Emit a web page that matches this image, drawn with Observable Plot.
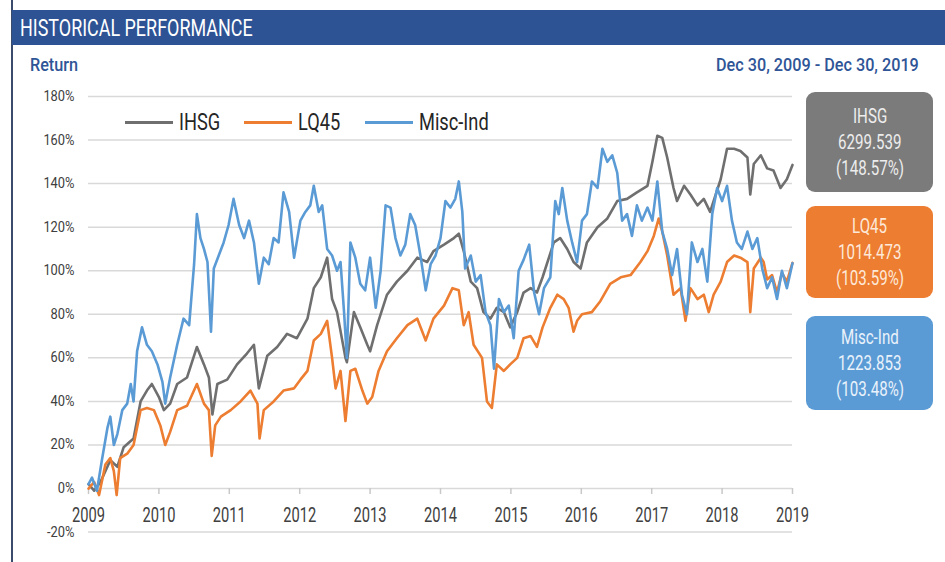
<!DOCTYPE html>
<html>
<head>
<meta charset="utf-8">
<script src="https://cdn.jsdelivr.net/npm/d3@7"></script>
<script src="https://cdn.jsdelivr.net/npm/@observablehq/plot@0.6"></script>
<style>
  html, body { margin: 0; padding: 0; background: #fff; }
  #wrap { position: relative; width: 945px; height: 562px; overflow: hidden; font-family: Roboto, "Noto Sans", sans-serif; }
  #chart { position: absolute; left: 0; top: 0; }
  .abs { position: absolute; }
  .cond { display: inline-block; white-space: nowrap; line-height: 1; }
  .cond > span { display: inline-block; transform-origin: 0 50%; }
</style>
</head>
<body>
<div id="wrap">
  <div id="leftRule" class="abs" style="left:11px;top:0;width:2px;height:562px;background:#3b4b6b;"></div>
  <div id="header" class="abs" style="left:12px;top:10px;width:933px;height:35px;background:#2e5395;"></div>
  <div id="chart"></div>
</div>
<script>
// ---------- data ----------
const titleText = "HISTORICAL PERFORMANCE";
const yLabelText = "Return";
const periodText = "Dec 30, 2009 - Dec 30, 2019";
const seriesNames = ["IHSG", "LQ45", "Misc-Ind"];
const seriesColors = ["#6f6f6f", "#ed7d31", "#5b9bd5"];
const boxColors = ["#7b7b7b", "#ed7d31", "#5b9bd5"];
const boxTextColors = ["#ededed", "#fde9d9", "#eaf2fb"];
const lastLevels = ["6299.539", "1014.473", "1223.853"];
const lastReturns = ["(148.57%)", "(103.59%)", "(103.48%)"];
const yTicks = [-20, 0, 20, 40, 60, 80, 100, 120, 140, 160, 180];
const xTicks = [2009, 2010, 2011, 2012, 2013, 2014, 2015, 2016, 2017, 2018, 2019];

// [year, return %]
const ihsg = [
  [2009.00, 2], [2009.08, -1], [2009.17, 3], [2009.31, 13], [2009.41, 10], [2009.50, 19],
  [2009.64, 23], [2009.74, 40], [2009.83, 45], [2009.90, 48], [2010.00, 42], [2010.07, 36],
  [2010.16, 39], [2010.26, 48], [2010.40, 51], [2010.54, 65], [2010.64, 57], [2010.71, 51],
  [2010.76, 34], [2010.83, 48], [2010.97, 50], [2011.11, 57], [2011.25, 62], [2011.35, 66],
  [2011.42, 46], [2011.54, 61], [2011.68, 65], [2011.82, 71], [2011.96, 69], [2012.01, 72],
  [2012.11, 78], [2012.20, 92], [2012.30, 97], [2012.39, 106], [2012.46, 87], [2012.53, 81],
  [2012.65, 60], [2012.67, 58], [2012.77, 81], [2012.86, 74], [2012.96, 66], [2013.00, 63],
  [2013.10, 75], [2013.24, 89], [2013.38, 95], [2013.53, 100], [2013.67, 106], [2013.81, 104],
  [2013.90, 109], [2014.05, 112], [2014.19, 115], [2014.26, 117], [2014.33, 109], [2014.43, 95],
  [2014.52, 92], [2014.61, 81], [2014.71, 78], [2014.80, 83], [2014.90, 81], [2014.99, 74],
  [2015.09, 81], [2015.18, 90], [2015.28, 92], [2015.37, 90], [2015.45, 97], [2015.61, 113],
  [2015.70, 115], [2015.80, 110], [2015.89, 104], [2015.99, 101], [2016.08, 113], [2016.23, 120],
  [2016.37, 124], [2016.51, 132], [2016.65, 133], [2016.79, 136], [2016.94, 139], [2017.01, 150],
  [2017.08, 162], [2017.15, 161], [2017.22, 152], [2017.31, 138], [2017.36, 132], [2017.46, 139],
  [2017.55, 135], [2017.65, 130], [2017.74, 133], [2017.83, 127], [2017.91, 135], [2017.98, 142],
  [2018.07, 156], [2018.17, 156], [2018.26, 155], [2018.36, 152], [2018.40, 135], [2018.45, 149],
  [2018.55, 153], [2018.64, 147], [2018.73, 146], [2018.83, 138], [2018.92, 142], [2019.00, 148.57]
];
const lq45 = [
  [2009.00, 0], [2009.08, 3], [2009.15, -3], [2009.24, 11], [2009.31, 14], [2009.36, 8],
  [2009.40, -3], [2009.45, 14], [2009.55, 16], [2009.64, 20], [2009.74, 36], [2009.83, 37],
  [2009.93, 36], [2010.02, 29], [2010.09, 20], [2010.16, 26], [2010.26, 36], [2010.40, 38],
  [2010.54, 48], [2010.64, 39], [2010.71, 36], [2010.75, 15], [2010.80, 29], [2010.88, 33],
  [2011.02, 36], [2011.16, 40], [2011.30, 45], [2011.40, 39], [2011.43, 23], [2011.49, 36],
  [2011.63, 40], [2011.77, 45], [2011.92, 46], [2012.01, 50], [2012.11, 54], [2012.20, 68],
  [2012.30, 71], [2012.39, 77], [2012.46, 60], [2012.51, 46], [2012.58, 54], [2012.65, 31],
  [2012.72, 54], [2012.79, 55], [2012.89, 45], [2012.96, 39], [2013.03, 42], [2013.12, 54],
  [2013.24, 63], [2013.38, 69], [2013.53, 75], [2013.67, 78], [2013.79, 68], [2013.90, 78],
  [2014.05, 84], [2014.17, 92], [2014.26, 91], [2014.33, 75], [2014.40, 81], [2014.47, 66],
  [2014.59, 60], [2014.66, 40], [2014.73, 37], [2014.80, 57], [2014.90, 54], [2014.99, 57],
  [2015.09, 60], [2015.18, 69], [2015.28, 70], [2015.37, 65], [2015.45, 74], [2015.56, 83],
  [2015.66, 89], [2015.75, 87], [2015.82, 83], [2015.89, 72], [2015.94, 77], [2016.01, 80],
  [2016.15, 81], [2016.27, 86], [2016.41, 94], [2016.56, 97], [2016.70, 98], [2016.84, 104],
  [2016.94, 109], [2017.03, 116], [2017.10, 124], [2017.15, 118], [2017.22, 107], [2017.31, 89],
  [2017.41, 92], [2017.48, 77], [2017.55, 92], [2017.65, 87], [2017.74, 89], [2017.81, 81],
  [2017.88, 89], [2017.98, 95], [2018.07, 104], [2018.17, 107], [2018.26, 106], [2018.36, 104],
  [2018.40, 81], [2018.45, 101], [2018.55, 106], [2018.59, 104], [2018.64, 96], [2018.71, 98],
  [2018.78, 90], [2018.85, 99], [2018.92, 95], [2019.00, 103.59]
];
const miscInd = [
  [2009.00, 2], [2009.05, 5], [2009.12, -1], [2009.19, 13], [2009.27, 28], [2009.31, 33],
  [2009.36, 20], [2009.41, 25], [2009.48, 36], [2009.55, 39], [2009.60, 48], [2009.64, 40],
  [2009.69, 63], [2009.76, 74], [2009.83, 66], [2009.90, 63], [2009.98, 57], [2010.05, 49],
  [2010.09, 39], [2010.16, 51], [2010.26, 66], [2010.35, 78], [2010.43, 75], [2010.50, 103],
  [2010.54, 126], [2010.59, 115], [2010.64, 110], [2010.69, 104], [2010.74, 72], [2010.78, 101],
  [2010.85, 107], [2010.92, 113], [2010.99, 121], [2011.06, 133], [2011.14, 121], [2011.21, 115],
  [2011.28, 123], [2011.35, 113], [2011.42, 94], [2011.49, 106], [2011.56, 103], [2011.63, 115],
  [2011.70, 113], [2011.77, 136], [2011.85, 127], [2011.92, 106], [2012.01, 123], [2012.08, 127],
  [2012.15, 130], [2012.20, 139], [2012.27, 127], [2012.32, 130], [2012.39, 110], [2012.46, 107],
  [2012.53, 100], [2012.58, 104], [2012.63, 81], [2012.67, 60], [2012.72, 113], [2012.79, 106],
  [2012.86, 94], [2012.93, 91], [2013.00, 106], [2013.08, 83], [2013.15, 100], [2013.22, 130],
  [2013.29, 129], [2013.36, 115], [2013.43, 107], [2013.50, 112], [2013.57, 126], [2013.64, 121],
  [2013.72, 106], [2013.79, 91], [2013.86, 103], [2013.93, 107], [2014.00, 115], [2014.07, 132],
  [2014.14, 129], [2014.21, 133], [2014.26, 141], [2014.31, 127], [2014.35, 101], [2014.43, 107],
  [2014.50, 95], [2014.57, 98], [2014.64, 81], [2014.71, 75], [2014.76, 55], [2014.83, 87],
  [2014.90, 81], [2014.97, 84], [2015.04, 69], [2015.11, 100], [2015.18, 105], [2015.26, 112],
  [2015.33, 90], [2015.40, 80], [2015.47, 92], [2015.56, 97], [2015.63, 132], [2015.68, 126],
  [2015.73, 138], [2015.80, 123], [2015.87, 113], [2015.94, 104], [2016.01, 123], [2016.08, 126],
  [2016.15, 141], [2016.23, 138], [2016.30, 156], [2016.37, 150], [2016.44, 153], [2016.51, 145],
  [2016.58, 123], [2016.65, 126], [2016.72, 116], [2016.79, 130], [2016.86, 123], [2016.94, 129],
  [2017.01, 123], [2017.08, 141], [2017.15, 118], [2017.22, 110], [2017.29, 98], [2017.36, 110],
  [2017.43, 89], [2017.50, 80], [2017.57, 113], [2017.65, 104], [2017.72, 110], [2017.79, 95],
  [2017.86, 126], [2017.93, 138], [2018.00, 132], [2018.07, 139], [2018.14, 123], [2018.21, 113],
  [2018.28, 110], [2018.36, 118], [2018.43, 110], [2018.50, 115], [2018.57, 101], [2018.64, 92],
  [2018.71, 97], [2018.78, 87], [2018.85, 100], [2018.92, 92], [2019.00, 103.48]
];

// ---------- build ----------
const seriesData = [ihsg, lq45, miscInd];
const rows = seriesData.flatMap((arr, i) => arr.map(([t, v]) => ({series: seriesNames[i], t, v})));

const chart = Plot.plot({
  width: 945,
  height: 562,
  marginLeft: 88,
  marginRight: 153,
  marginTop: 96,
  marginBottom: 30.4,
  x: {domain: [2009, 2019], label: null},
  y: {domain: [-20, 180], label: null},
  color: {domain: seriesNames, range: seriesColors},
  style: {fontFamily: "Roboto, 'Noto Sans', sans-serif", background: "transparent", overflow: "visible", color: "#404040"},
  marks: [
    Plot.gridY(yTicks, {stroke: "#d9d9d9", strokeOpacity: 1, strokeWidth: 1.5}),
    Plot.axisY(yTicks, {anchor: "left", label: null, tickSize: 0, tickPadding: 14, tickFormat: d => d + "%", fontSize: 14, fill: "#404040"}),
    Plot.ruleX(xTicks, {x: d => d, y1: 0, y2: 0, insetBottom: -6, stroke: "#c8c8c8", strokeWidth: 1.5}),
    Plot.axisX(xTicks, {anchor: "bottom", label: null, tickSize: 0, tickPadding: 0, dy: -25, tickFormat: d => String(d), fontSize: 21, fill: "#404040"}),
    Plot.line(rows, {x: "t", y: "v", z: "series", stroke: "series", strokeWidth: 2.6, strokeLinejoin: "round", strokeLinecap: "round"})
  ]
});
document.getElementById("chart").appendChild(chart);

function squeeze(sel, s) {
  chart.querySelectorAll(sel).forEach(t => {
    const tr = t.getAttribute("transform");
    if (tr && tr.includes("translate")) t.setAttribute("transform", tr + ` scale(${s},1)`);
    else {
      const x = +(t.getAttribute("x") || 0);
      t.setAttribute("transform", `translate(${x},0) scale(${s},1) translate(${-x},0)`);
    }
  });
}
squeeze('g[aria-label="x-axis tick label"] text', 0.7);
squeeze('g[aria-label="y-axis tick label"] text', 0.92);

// ---------- html overlays ----------
const wrap = document.getElementById("wrap");
function cond(txt, size, scale, color, weight) {
  const outer = document.createElement("span");
  outer.className = "cond";
  outer.style.fontSize = size + "px";
  outer.style.color = color;
  outer.style.fontWeight = weight || 400;
  const inner = document.createElement("span");
  inner.textContent = txt;
  inner.style.transform = `scaleX(${scale})`;
  inner.dataset.scale = scale;
  outer.appendChild(inner);
  return outer;
}
function place(el, css) {
  const d = document.createElement("div");
  d.className = "abs";
  d.style.cssText += css;
  d.appendChild(el);
  wrap.appendChild(d);
  return d;
}
place(cond(titleText, 23, 0.78, "#ffffff"), "left:20px;top:28px;transform:translateY(-50%);");
place(cond(yLabelText, 18, 0.9, "#2f5597", 500), "left:30px;top:65px;transform:translateY(-50%);");
place(cond(periodText, 18, 0.9, "#2f5597", 500), "right:27px;top:65px;transform:translateY(-50%);");

// legend
const legend = document.createElement("div");
legend.style.cssText = "display:flex;align-items:center;gap:24px;";
seriesNames.forEach((name, i) => {
  const item = document.createElement("div");
  item.style.cssText = "display:flex;align-items:center;gap:6px;";
  const sw = document.createElement("span");
  sw.style.cssText = `display:inline-block;width:48px;height:3px;background:${seriesColors[i]};`;
  item.appendChild(sw);
  item.appendChild(cond(name, 24, 0.76, "#262626"));
  legend.appendChild(item);
});
place(legend, "left:125px;top:122px;transform:translateY(-50%);");

// value boxes
const boxTops = [92, 206, 316];
const boxHeights = [100, 92, 94];
seriesNames.forEach((name, i) => {
  const box = document.createElement("div");
  box.style.cssText = `width:127px;height:${boxHeights[i]}px;background:${boxColors[i]};border-radius:9px;display:flex;flex-direction:column;align-items:center;justify-content:center;gap:4px;`;
  [name, lastLevels[i], lastReturns[i]].forEach(line => {
    const c = cond(line, 21, 0.72, boxTextColors[i]);
    c.style.height = "22px";
    c.style.lineHeight = "22px";
    box.appendChild(c);
  });
  place(box, `left:806px;top:${boxTops[i]}px;`);
});

// fix widths of condensed spans
document.querySelectorAll(".cond").forEach(o => {
  const inner = o.firstChild;
  const s = +inner.dataset.scale;
  o.style.width = (inner.offsetWidth * s) + "px";
});
</script>
</body>
</html>
